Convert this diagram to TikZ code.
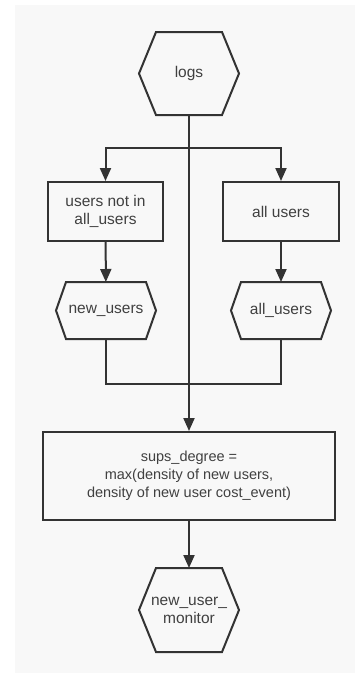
\documentclass[tikz,border=0pt]{standalone}
\usepackage{fontspec}
\setmainfont{Liberation Sans}
\usepackage{tikz}
\usetikzlibrary{arrows.meta,positioning}

\definecolor{lineGray}{HTML}{333333}
\definecolor{textGray}{HTML}{404040}
\definecolor{panelGray}{HTML}{F8F8F8}

\begin{document}
\begin{tikzpicture}[x=1pt,y=-1pt,
    box/.style={draw=lineGray, line width=2pt, rectangle, text=textGray, align=center, inner sep=0pt, font=\fontsize{15.5}{18}\selectfont},
    hexa/.style={box, draw=none, append after command={\pgfextra{\draw[draw=lineGray, line width=2pt, line join=miter]
      ([xshift=#1pt]\tikzlastnode.north west) -- ([xshift=-#1pt]\tikzlastnode.north east) -- (\tikzlastnode.east)
      -- ([xshift=-#1pt]\tikzlastnode.south east) -- ([xshift=#1pt]\tikzlastnode.south west) -- (\tikzlastnode.west) -- cycle;}}},
    flow/.style={draw=lineGray, line width=2pt, -{Triangle[length=13pt,width=11pt]}},
    link/.style={draw=lineGray, line width=2pt}]
  % \draw[step=10,thin,gray!40] (0,0) grid (355,675);
  \useasboundingbox (0,0) rectangle (355,675);
  \fill[panelGray] (15,5) rectangle (355,673);

  \node[hexa=17, minimum width=98pt, minimum height=81pt] (logsNode) at (189,73.5) {logs};
  \node[box, minimum width=115pt, minimum height=59pt] (notInBoxNode) at (105.5,211.5) {users not in\\all\_users};
  \node[box, minimum width=116pt, minimum height=59pt] (allBoxNode) at (281,211.5) {all users};
  \node[hexa=10, minimum width=98pt, minimum height=55pt] (newUsersNode) at (106,310.5) {new\_users};
  \node[hexa=10, minimum width=98pt, minimum height=55pt] (allUsersNode) at (281,310.5) {all\_users};
  \node[box, minimum width=292pt, minimum height=88pt, font=\fontsize{14.5}{18}\selectfont] (degreeNode) at (189,476) {sups\_degree =\\max(density of new users,\\density of new user cost\_event)};
  \node[hexa=17, minimum width=98pt, minimum height=82pt] (monitorNode) at (189,610) {new\_user\_\\monitor};

  \coordinate (splitPoint) at (189,148);
  \coordinate (mergePoint) at (189,384);

  \draw[flow] (splitPoint) -| (notInBoxNode.north);
  \draw[flow] (splitPoint) -| (allBoxNode.north);
  \draw[flow] (logsNode.south) -- (degreeNode.north);
  \draw[flow] (notInBoxNode) -- (newUsersNode);
  \draw[flow] (allBoxNode) -- (allUsersNode);
  \draw[link] (newUsersNode.south) |- (mergePoint) -| (allUsersNode.south);
  \draw[flow] (degreeNode) -- (monitorNode);
\end{tikzpicture}
\end{document}
